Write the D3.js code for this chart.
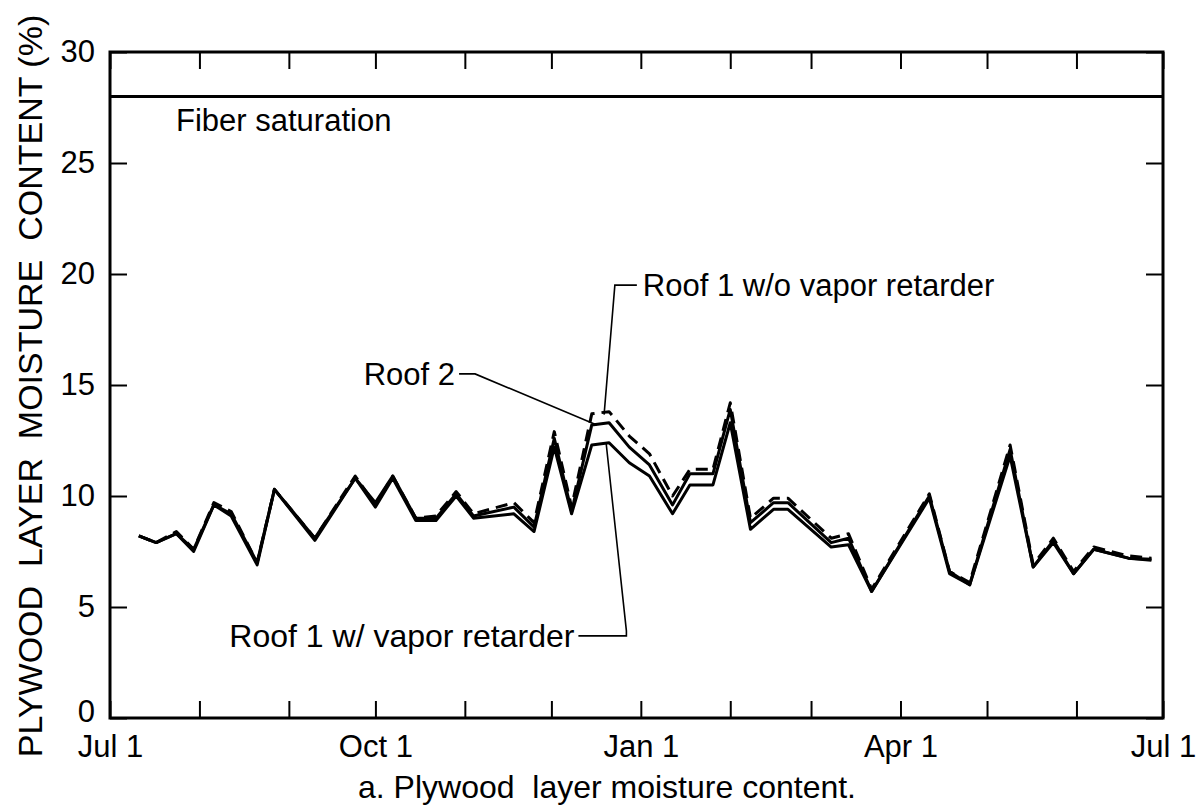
<!DOCTYPE html>
<html>
<head>
<meta charset="utf-8">
<script src="https://cdn.jsdelivr.net/npm/d3@7"></script>
<style>
  body { margin: 0; background: #fff; }
  text { font-family: "Liberation Sans", Arial, sans-serif; fill: #000; }
</style>
</head>
<body>
<div id="chart-area"></div>
<script>
// sampling dates (roughly weekly readings)
const dates = [
  "1986-07-11","1986-07-17","1986-07-24","1986-07-30","1986-08-06","1986-08-12","1986-08-21","1986-08-27",
  "1986-09-10","1986-09-24","1986-10-01","1986-10-07","1986-10-15","1986-10-22","1986-10-29","1986-11-04",
  "1986-11-18","1986-11-25","1986-12-02","1986-12-08","1986-12-15","1986-12-21","1986-12-28","1987-01-04",
  "1987-01-12","1987-01-18","1987-01-26","1987-02-01","1987-02-08","1987-02-16","1987-02-21","1987-03-08",
  "1987-03-14","1987-03-22","1987-04-11","1987-04-18","1987-04-25","1987-05-09","1987-05-17","1987-05-24",
  "1987-05-31","1987-06-07","1987-06-19","1987-06-27"
];

const roof1NoVR = [
  8.2, 7.9, 8.4, 7.6, 9.7, 9.3, 7.0, 10.3, 8.1, 10.9, 9.6, 10.9, 9.0, 9.1, 10.2, 9.2,
  9.7, 8.8, 12.9, 9.5, 13.7, 13.8, 12.7, 11.9, 10.0, 11.2, 11.2, 14.2, 9.0, 9.9, 9.9, 8.1,
  8.3, 5.8, 10.1, 6.6, 6.1, 12.3, 6.9, 8.1, 6.6, 7.7, 7.3, 7.2
];
const roof2 = [
  8.2, 7.9, 8.3, 7.6, 9.6, 9.2, 7.0, 10.3, 8.1, 10.8, 9.7, 10.9, 9.0, 9.0, 10.1, 9.1,
  9.5, 8.6, 12.6, 9.3, 13.2, 13.3, 12.2, 11.4, 9.6, 11.0, 11.0, 13.9, 8.8, 9.7, 9.7, 7.9,
  8.1, 5.7, 10.0, 6.6, 6.0, 12.1, 6.8, 8.0, 6.5, 7.6, 7.2, 7.15
];
const roof1VR = [
  8.2, 7.9, 8.3, 7.5, 9.6, 9.1, 6.9, 10.3, 8.0, 10.8, 9.5, 10.8, 8.9, 8.9, 10.0, 9.0,
  9.2, 8.4, 12.2, 9.2, 12.3, 12.4, 11.5, 10.9, 9.2, 10.5, 10.5, 13.3, 8.5, 9.4, 9.4, 7.7,
  7.8, 5.7, 9.9, 6.5, 6.0, 11.8, 6.8, 7.9, 6.5, 7.6, 7.2, 7.1
];

const yTicks = [0, 5, 10, 15, 20, 25, 30];
const xLabelMonths = ["Jul 1", "Oct 1", "Jan 1", "Apr 1"];
const fiberSaturation = 28;

let margin = {top: 52, right: 38, bottom: 90, left: 110},
  width = 1201 - margin.left - margin.right,
  height = 808 - margin.top - margin.bottom;

let svg = d3.select("#chart-area")
  .append("svg")
  .attr("width", 1201)
  .attr("height", 808)
  .append("g")
  .attr("transform", "translate(" + margin.left + "," + margin.top + ")");

let parse = d3.timeParse("%Y-%m-%d");
let start = parse("1986-07-01"), end = parse("1987-07-01");

let x = d3.scaleTime().domain([start, end]).range([0, width]);
let y = d3.scaleLinear().domain([0, 30]).range([height, 0]);

let months = d3.timeMonth.range(start, d3.timeDay.offset(end, 1));
let fmt = d3.timeFormat("%b");
let monthLabel = function(d) {
  let s = fmt(d) + " 1";
  return xLabelMonths.indexOf(s) >= 0 ? s : "";
};

// ---- axes (ticks point inward on all four sides) ----
let tick = 17;
let xBottom = d3.axisBottom(x).tickValues(months).tickSizeInner(-tick).tickSizeOuter(0)
  .tickPadding(17).tickFormat(monthLabel);
let xTop = d3.axisTop(x).tickValues(months).tickSizeInner(-tick).tickSizeOuter(0).tickFormat("");
let yLeft = d3.axisLeft(y).tickValues(yTicks).tickSizeInner(-tick).tickSizeOuter(0).tickPadding(15);
let yRight = d3.axisRight(y).tickValues(yTicks).tickSizeInner(-tick).tickSizeOuter(0).tickFormat("");

function styleAxis(g) {
  g.select(".domain").remove();
  g.selectAll(".tick line").attr("stroke", "#000").attr("stroke-width", 2);
  g.selectAll(".tick text").style("font-size", "31px").attr("fill", "#000");
}

svg.append("g").attr("transform", "translate(0," + height + ")").call(xBottom).call(styleAxis);
svg.append("g").call(xTop).call(styleAxis);
svg.append("g").call(yLeft).call(styleAxis);
svg.append("g").attr("transform", "translate(" + width + ",0)").call(yRight).call(styleAxis);

// the "0" label sits a little higher so it clears "Jul 1"
svg.selectAll(".tick text").filter(function(d) { return d === 0; }).attr("dy", "0.1em");

svg.append("rect")
  .attr("width", width).attr("height", height)
  .attr("fill", "none").attr("stroke", "#000").attr("stroke-width", 3);

// fiber saturation line
svg.append("line")
  .attr("x1", 0).attr("x2", width)
  .attr("y1", y(fiberSaturation)).attr("y2", y(fiberSaturation))
  .attr("stroke", "#000").attr("stroke-width", 3);

svg.append("text")
  .attr("x", 66).attr("y", y(fiberSaturation) + 35)
  .style("font-size", "31px")
  .text("Fiber saturation");

// ---- series ----
let series = [
  {name: "Roof 1 w/o vapor retarder", values: roof1NoVR, dash: "12,7"},
  {name: "Roof 2", values: roof2, dash: null},
  {name: "Roof 1 w/ vapor retarder", values: roof1VR, dash: null}
];

let line = d3.line()
  .x(function(d) { return x(d.date); })
  .y(function(d) { return y(d.value); });

series.forEach(function(s) {
  let pts = dates.map(function(dt, i) { return {date: parse(dt), value: s.values[i]}; });
  svg.append("path")
    .datum(pts)
    .attr("fill", "none")
    .attr("stroke", "#000")
    .attr("stroke-width", 3)
    .attr("stroke-linejoin", "round")
    .attr("stroke-dasharray", s.dash)
    .attr("d", line);
});

// ---- annotations with leader lines ----
let idxPeak = dates.indexOf("1986-12-21");
let idxR2 = dates.indexOf("1986-12-15");

function leader(points) {
  svg.append("path")
    .attr("d", d3.line()(points))
    .attr("fill", "none").attr("stroke", "#000").attr("stroke-width", 1.6);
}

// Roof 1 w/o vapor retarder
let woX = x(parse("1986-12-23")), woY = y(19.5);
leader([[woX + 22, woY], [woX, woY], [x(parse(dates[idxPeak])) - 5, y(roof1NoVR[idxPeak]) + 3]]);
svg.append("text").attr("x", woX + 28).attr("y", woY + 11)
  .style("font-size", "31px").text("Roof 1 w/o vapor retarder");

// Roof 2
let r2X = x(parse("1986-10-30")), r2Y = y(15.5);
leader([[r2X, r2Y], [r2X + 16, r2Y], [x(parse(dates[idxR2])) + 5, y(roof2[idxR2])]]);
svg.append("text").attr("x", r2X - 4).attr("y", r2Y + 11)
  .attr("text-anchor", "end")
  .style("font-size", "31px").text("Roof 2");

// Roof 1 w/ vapor retarder
let wX = x(parse("1986-12-27")), wY = y(3.7);
leader([[wX - 48, wY], [wX, wY], [wX, wY - 5], [x(parse(dates[idxPeak])) - 3, y(roof1VR[idxPeak])]]);
svg.append("text").attr("x", wX - 52).attr("y", wY + 11)
  .attr("text-anchor", "end")
  .style("font-size", "32px").text("Roof 1 w/ vapor retarder");

// axis title
svg.append("text")
  .attr("transform", "rotate(-90)")
  .attr("x", -(386 - margin.top))
  .attr("y", -68)
  .style("text-anchor", "middle")
  .style("font-size", "34px")
  .style("white-space", "pre")
  .text("PLYWOOD  LAYER  MOISTURE  CONTENT (%)");

// caption
svg.append("text")
  .attr("x", 607 - margin.left)
  .attr("y", height + 80)
  .style("text-anchor", "middle")
  .style("font-size", "32px")
  .style("white-space", "pre")
  .text("a. Plywood  layer moisture content.");
</script>
</body>
</html>
